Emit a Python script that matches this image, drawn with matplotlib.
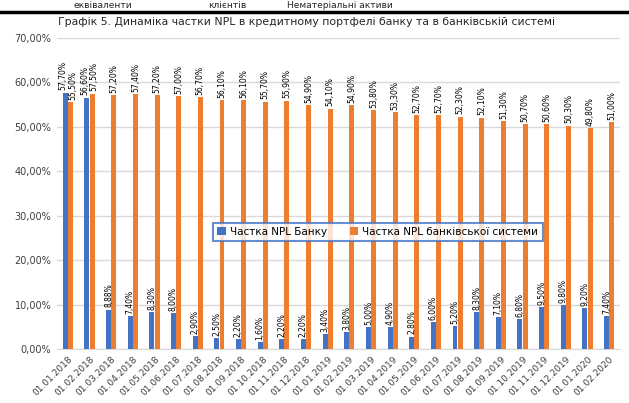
import matplotlib.pyplot as plt
import numpy as np

# data (percent)
dates = ['01.01.2018', '01.02.2018', '01.03.2018', '01.04.2018', '01.05.2018', '01.06.2018',
         '01.07.2018', '01.08.2018', '01.09.2018', '01.10.2018', '01.11.2018', '01.12.2018',
         '01.01.2019', '01.02.2019', '01.03.2019', '01.04.2019', '01.05.2019', '01.06.2019',
         '01.07.2019', '01.08.2019', '01.09.2019', '01.10.2019', '01.11.2019', '01.12.2019',
         '01.01.2020', '01.02.2020']
npl_bank = [57.70, 56.60, 8.88, 7.40, 8.30, 8.00, 2.90, 2.50, 2.20, 1.60, 2.20, 2.20,
            3.40, 3.80, 5.00, 4.90, 2.80, 6.00, 5.20, 8.30, 7.10, 6.80, 9.50, 9.80,
            9.20, 7.40]
npl_system = [55.50, 57.50, 57.20, 57.40, 57.20, 57.00, 56.70, 56.10, 56.10, 55.70, 55.90, 54.90,
              54.10, 54.90, 53.80, 53.30, 52.70, 52.70, 52.30, 52.10, 51.30, 50.70, 50.60, 50.30,
              49.80, 51.00]
legend_names = ['Частка NPL Банку', 'Частка NPL банківської системи']
title = 'Графік 5. Динаміка частки NPL в кредитному портфелі банку та в банківській системі'
top_words = ['еквіваленти', 'клієнтів', 'Нематеріальні активи']

blue = '#4472C4'
orange = '#ED7D31'

plt.rcParams['font.family'] = ['DejaVu Sans']

fig = plt.figure(figsize=(6.29, 4.03), dpi=100)
ax = fig.add_axes([57 / 629, 1 - 349 / 403, 563 / 629, 311 / 403])

x = np.arange(len(dates))
w = 0.23
b1 = ax.bar(x - 0.12, npl_bank, w, color=blue, label=legend_names[0], zorder=3)
b2 = ax.bar(x + 0.12, npl_system, w, color=orange, label=legend_names[1], zorder=3)

# vertical value labels above the bars
def fmt(v):
    return ('%.2f%%' % v).replace('.', ',')

for i in x:
    vb, vs = npl_bank[i], npl_system[i]
    close = abs(vb - vs) < 8      # labels would sit side by side
    xb = i - 0.12 - (0.1 if close else 0)
    xs = i + 0.12 + (0.1 if close else 0)
    ax.text(xb, vb + 0.5, fmt(vb), rotation=90, ha='center', va='bottom',
            fontsize=5.5, color='black', zorder=4)
    ax.text(xs, vs + 0.5, fmt(vs), rotation=90, ha='center', va='bottom',
            fontsize=5.5, color='black', zorder=4)

ax.set_ylim(0, 70)
ax.set_xlim(-0.5, len(dates) - 0.5)
ax.set_yticks(np.arange(0, 71, 10))
ax.set_yticklabels([('%.2f%%' % t).replace('.', ',') for t in np.arange(0, 71, 10)],
                   fontsize=7, color='#404040')
ax.set_xticks(x)
ax.set_xticklabels(dates, rotation=45, ha='right', rotation_mode='anchor',
                   fontsize=6.5, color='#404040')
ax.tick_params(axis='both', length=0, pad=4)
ax.yaxis.grid(True, color='#d9d9d9', linewidth=1, zorder=0)
for s in ('top', 'right', 'left'):
    ax.spines[s].set_visible(False)
ax.spines['bottom'].set_color('#d9d9d9')

leg = ax.legend(loc='center', bbox_to_anchor=(0.57, 0.376), ncol=2, fontsize=7.5,
                frameon=True, fancybox=False, handlelength=0.8, handleheight=0.8,
                columnspacing=2.2, handletextpad=0.4, borderpad=0.4)
leg.get_frame().set_edgecolor(blue)
leg.get_frame().set_linewidth(1.5)
leg.set_zorder(5)

# title and the header row from the page above
fig.text(58 / 629, 1 - 22 / 403, title, fontsize=7.8, color='#262626', va='center', ha='left')
for xp, word in zip([103, 227, 340], top_words):
    fig.text(xp / 629, 1 - 1 / 403, word, fontsize=6.5, color='#262626', ha='center', va='top')
fig.add_artist(plt.Line2D([0, 1], [1 - 12 / 403, 1 - 12 / 403], color='black', linewidth=2.5,
                          transform=fig.transFigure))

fig.savefig('out.png', dpi=100)
